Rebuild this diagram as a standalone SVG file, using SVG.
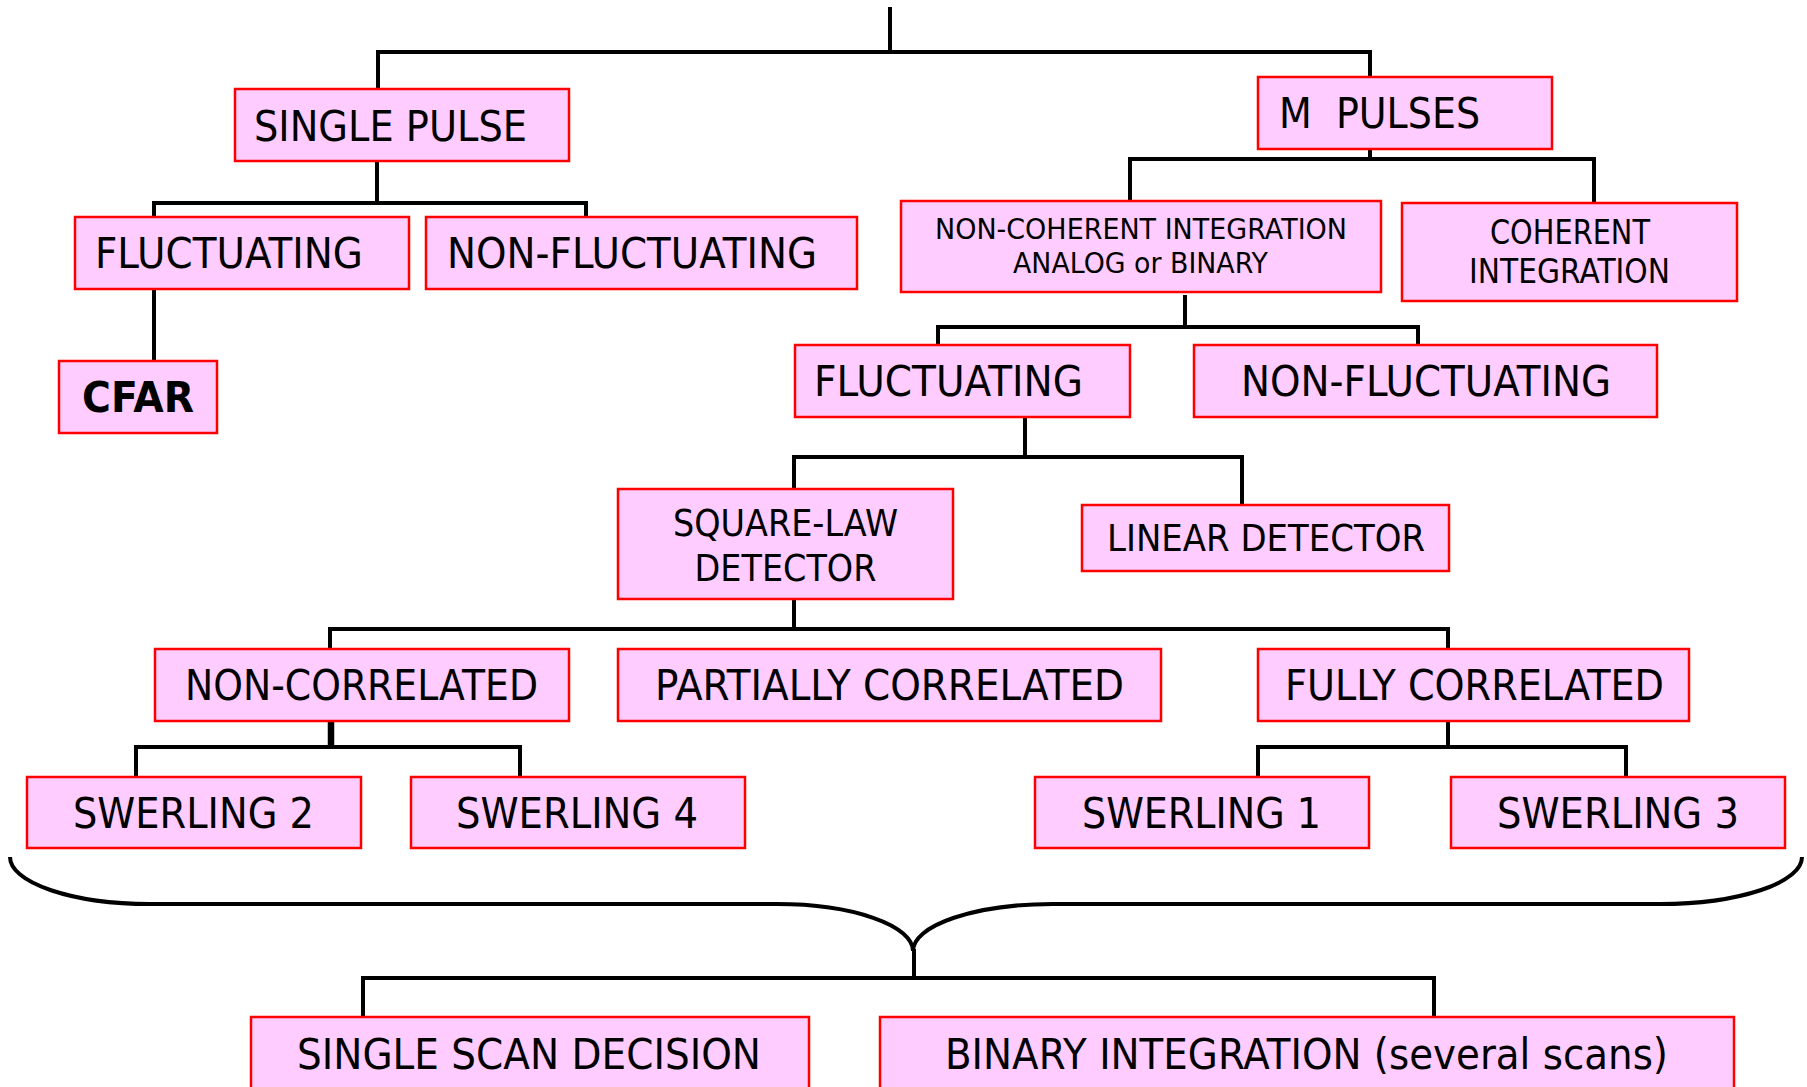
<svg xmlns="http://www.w3.org/2000/svg" width="1807" height="1087" viewBox="0 0 1807 1087">
<style>
.box{fill:#FFCCFF;stroke:#FF0000;stroke-width:2.5}
.lbl{font-family:"DejaVu Sans","Liberation Sans",sans-serif;fill:#000}
.f42{font-size:42px}
.f36{font-size:36.5px}
.f33{font-size:33px}
.f29{font-size:29px}
.b{font-weight:bold}
.con{fill:none;stroke:#000;stroke-width:4;stroke-linecap:square}
</style>
<rect width="1807" height="1087" fill="#fff"/>
<g id="connectors">
<path class="con" d="M890,9 V52 M378,52 H1370 M378,52 V88 M1370,52 V75"/>
<path class="con" d="M377,162 V203 M154,203 H586 M154,203 V216 M586,203 V216"/>
<path class="con" d="M154,290 V360"/>
<path class="con" d="M1370,149 V159 M1130,159 H1594 M1130,159 V199 M1594,159 V201"/>
<path class="con" d="M1185,297 V327 M938,327 H1418 M938,327 V344 M1418,327 V344"/>
<path class="con" d="M1025,418 V457 M794,457 H1242 M794,457 V488 M1242,457 V503"/>
<path class="con" d="M794,600 V629 M330,629 H1448 M330,629 V648 M1448,629 V648"/>
<path class="con" d="M331,722 V747 M136,747 H520 M136,747 V776 M520,747 V776" />
<path d="M331,722 V747" stroke="#000" stroke-width="6.5" fill="none"/>
<path class="con" d="M1448,722 V747 M1258,747 H1626 M1258,747 V776 M1626,747 V776"/>
<path class="con" style="stroke-linecap:butt" d="M10,857 A140,47 0 0 0 150,904 H777 A136,47 0 0 1 913,951 A140,47 0 0 1 1053,904 H1660 A142,47 0 0 0 1802,857"/>
<path class="con" d="M914,951 V978 M363,978 H1434 M363,978 V1016 M1434,978 V1016"/>
</g>
<g id="single-pulse"><rect class="box" x="235" y="89" width="334" height="72"/><text class="lbl f42" x="254" y="141" textLength="273" lengthAdjust="spacingAndGlyphs">SINGLE PULSE</text></g>
<g id="fluctuating-1"><rect class="box" x="75" y="217" width="334" height="72"/><text class="lbl f42" x="95" y="268" textLength="268" lengthAdjust="spacingAndGlyphs">FLUCTUATING</text></g>
<g id="non-fluctuating-1"><rect class="box" x="426" y="217" width="431" height="72"/><text class="lbl f42" x="447" y="268" textLength="370" lengthAdjust="spacingAndGlyphs">NON-FLUCTUATING</text></g>
<g id="cfar"><rect class="box" x="59" y="361" width="158" height="72"/><text class="lbl f42 b" x="82" y="412" textLength="112" lengthAdjust="spacingAndGlyphs">CFAR</text></g>
<g id="m-pulses"><rect class="box" x="1258" y="77" width="294" height="72"/><text class="lbl f42" x="1279" y="128" textLength="201" lengthAdjust="spacingAndGlyphs" xml:space="preserve">M  PULSES</text></g>
<g id="non-coherent"><rect class="box" x="901" y="201" width="480" height="91"/><text class="lbl f29" x="935" y="239" textLength="412" lengthAdjust="spacingAndGlyphs">NON-COHERENT INTEGRATION</text><text class="lbl f29" x="1013" y="273" textLength="255" lengthAdjust="spacingAndGlyphs">ANALOG or BINARY</text></g>
<g id="coherent"><rect class="box" x="1402" y="203" width="335" height="98"/><text class="lbl f33" x="1490" y="244" textLength="160" lengthAdjust="spacingAndGlyphs">COHERENT</text><text class="lbl f33" x="1469" y="283" textLength="201" lengthAdjust="spacingAndGlyphs">INTEGRATION</text></g>
<g id="fluctuating-2"><rect class="box" x="795" y="345" width="335" height="72"/><text class="lbl f42" x="814" y="396" textLength="269" lengthAdjust="spacingAndGlyphs">FLUCTUATING</text></g>
<g id="non-fluctuating-2"><rect class="box" x="1194" y="345" width="463" height="72"/><text class="lbl f42" x="1241" y="396" textLength="370" lengthAdjust="spacingAndGlyphs">NON-FLUCTUATING</text></g>
<g id="square-law"><rect class="box" x="618" y="489" width="335" height="110"/><text class="lbl f36" x="673" y="536" textLength="225" lengthAdjust="spacingAndGlyphs">SQUARE-LAW</text><text class="lbl f36" x="694.5" y="581" textLength="182" lengthAdjust="spacingAndGlyphs">DETECTOR</text></g>
<g id="linear-detector"><rect class="box" x="1082" y="505" width="367" height="66"/><text class="lbl f36" x="1107" y="551" textLength="318" lengthAdjust="spacingAndGlyphs">LINEAR DETECTOR</text></g>
<g id="non-correlated"><rect class="box" x="155" y="649" width="414" height="72"/><text class="lbl f42" x="185" y="700" textLength="353" lengthAdjust="spacingAndGlyphs">NON-CORRELATED</text></g>
<g id="partially-correlated"><rect class="box" x="618" y="649" width="543" height="72"/><text class="lbl f42" x="655" y="700" textLength="469" lengthAdjust="spacingAndGlyphs">PARTIALLY CORRELATED</text></g>
<g id="fully-correlated"><rect class="box" x="1258" y="649" width="431" height="72"/><text class="lbl f42" x="1285" y="700" textLength="379" lengthAdjust="spacingAndGlyphs">FULLY CORRELATED</text></g>
<g id="swerling-2"><rect class="box" x="27" y="777" width="334" height="71"/><text class="lbl f42" x="73" y="828" textLength="241" lengthAdjust="spacingAndGlyphs">SWERLING 2</text></g>
<g id="swerling-4"><rect class="box" x="411" y="777" width="334" height="71"/><text class="lbl f42" x="456" y="828" textLength="242" lengthAdjust="spacingAndGlyphs">SWERLING 4</text></g>
<g id="swerling-1"><rect class="box" x="1035" y="777" width="334" height="71"/><text class="lbl f42" x="1082" y="828" textLength="239" lengthAdjust="spacingAndGlyphs">SWERLING 1</text></g>
<g id="swerling-3"><rect class="box" x="1451" y="777" width="334" height="71"/><text class="lbl f42" x="1497" y="828" textLength="242" lengthAdjust="spacingAndGlyphs">SWERLING 3</text></g>
<g id="single-scan"><rect class="box" x="251" y="1017" width="558" height="90"/><text class="lbl f42" x="297" y="1069" textLength="464" lengthAdjust="spacingAndGlyphs">SINGLE SCAN DECISION</text></g>
<g id="binary-integration"><rect class="box" x="880" y="1017" width="854" height="90"/><text class="lbl f42" x="945" y="1069" textLength="723" lengthAdjust="spacingAndGlyphs">BINARY INTEGRATION (several scans)</text></g>
</svg>
